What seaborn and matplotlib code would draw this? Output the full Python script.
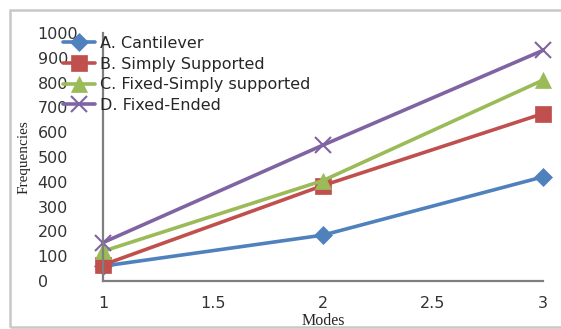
import matplotlib
matplotlib.use("Agg")
import matplotlib.pyplot as plt
import seaborn as sns
import pandas as pd
from matplotlib.patches import Rectangle

modes = [1, 2, 3]
series_names = ["A. Cantilever", "B. Simply Supported",
                "C. Fixed-Simply supported", "D. Fixed-Ended"]
cantilever = [60, 185, 420]
simply_supported = [65, 385, 675]
fixed_simply = [120, 405, 810]
fixed_ended = [155, 548, 930]
x_ticks = [1, 1.5, 2, 2.5, 3]
y_ticks = [0, 100, 200, 300, 400, 500, 600, 700, 800, 900, 1000]

colors = ["#4F81BD", "#C0504D", "#9BBB59", "#8064A2"]
markers = ["D", "s", "^", "x"]
msizes = [9, 12, 11, 12]

rows = []
for name, vals in zip(series_names, [cantilever, simply_supported, fixed_simply, fixed_ended]):
    for m, v in zip(modes, vals):
        rows.append({"Modes": m, "Frequencies": v, "Series": name})
df = pd.DataFrame(rows)

sns.set_theme(style="white")
plt.rcParams['font.family'] = ['DejaVu Sans']

fig = plt.figure(figsize=(5.61, 3.29), dpi=100)
ax = fig.add_axes([103/561, (329-281)/329, 440/561, 248/329])

for name, c, mk, ms in zip(series_names, colors, markers, msizes):
    sub = df[df["Series"] == name]
    sns.lineplot(data=sub, x="Modes", y="Frequencies", ax=ax, color=c,
                 marker=mk, markersize=ms, linewidth=2.6, label=name,
                 markeredgecolor=c, markeredgewidth=1.5 if mk == "x" else 0.5,
                 clip_on=False)

ax.set_xlim(1, 3)
ax.set_ylim(0, 1000)
ax.set_xticks(x_ticks)
ax.set_xticklabels(["1", "1.5", "2", "2.5", "3"])
ax.set_yticks(y_ticks)
ax.set_yticklabels([str(v) for v in y_ticks])
ax.tick_params(axis="both", length=0, labelsize=11.5, colors="#333333")
ax.tick_params(axis="x", pad=11)
ax.tick_params(axis="y", pad=47)
for lbl in ax.get_yticklabels():
    lbl.set_horizontalalignment("left")

for s in ["top", "right"]:
    ax.spines[s].set_visible(False)
for s in ["left", "bottom"]:
    ax.spines[s].set_color("#7f7f7f")
    ax.spines[s].set_linewidth(1.6)

ax.set_xlabel("Modes", family="Liberation Serif", fontsize=11.5)
ax.set_ylabel("Frequencies", family="Liberation Serif", fontsize=11)
ax.yaxis.set_label_coords(-0.165, 0.50)
ax.xaxis.set_label_coords(0.5, -0.13)
ax.xaxis.label.set_verticalalignment("top")

leg = ax.legend(loc="upper left", bbox_to_anchor=(63/561, 1 - 36/329),
                bbox_transform=fig.transFigure, frameon=False,
                fontsize=11.5, handlelength=2.0, handletextpad=0.3,
                labelspacing=0.35, borderaxespad=0, borderpad=0)
for t in leg.get_texts():
    t.set_color("#262626")

border = Rectangle((10/561, 2/329), 1.02, 317/329, transform=fig.transFigure,
                   fill=False, edgecolor="#c8c8c8", linewidth=1.8, clip_on=False)
fig.patches.append(border)

fig.savefig("out.png", dpi=100)
